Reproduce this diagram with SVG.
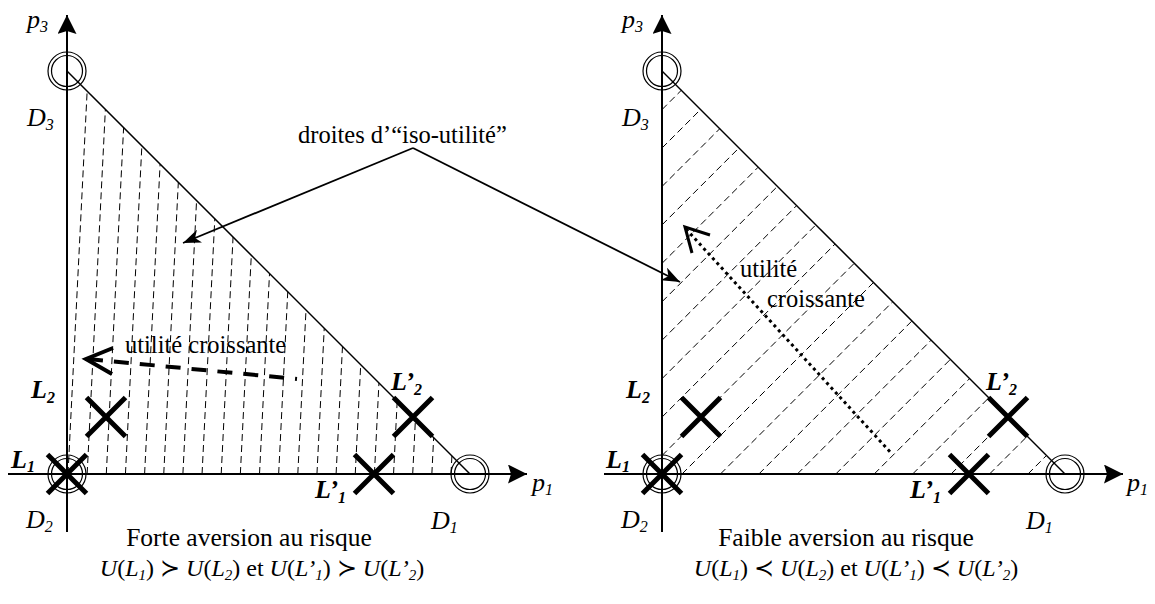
<svg xmlns="http://www.w3.org/2000/svg" xmlns:xlink="http://www.w3.org/1999/xlink" width="1155" height="604" viewBox="0 0 1155 604">
<style>
.axis{stroke:#000;stroke-width:2;fill:none}
.hyp{stroke:#000;stroke-width:1.5;fill:none}
.hatch{stroke:#000;stroke-width:1;stroke-dasharray:7 4;fill:none}
.ring{fill:none;stroke:#000;stroke-width:1.2}
.cross{stroke:#000;stroke-width:5;fill:none}
text{font-family:'Liberation Serif','DejaVu Serif',serif;fill:#000}
.lbl{font-style:italic;font-size:26px}
.bl{font-weight:bold}
.sub{font-size:16px}
.note{font-size:24.5px}
.title{font-size:25.5px}
.f{font-size:24px}
.i{font-style:italic}
.fs{font-size:15px;font-style:italic}
.conn{stroke:#000;stroke-width:1.8;fill:none}
.dash{stroke:#000;stroke-width:4;fill:none;stroke-dasharray:15 11}
.dot{stroke:#000;stroke-width:3;fill:none;stroke-dasharray:3 3.5}
.open{stroke:#000;stroke-width:4;fill:none}
.open2{stroke:#000;stroke-width:3;fill:none}
</style>
<defs>
<marker id="axhead" viewBox="0 0 19 19" refX="19" refY="9.5" markerWidth="19" markerHeight="19" markerUnits="userSpaceOnUse" orient="auto">
<path d="M0,0 L19,9.5 L0,19 L3,9.5 z" fill="#000"/>
</marker>
<marker id="stealth" viewBox="0 0 18 14" refX="18" refY="7" markerWidth="18" markerHeight="14" markerUnits="userSpaceOnUse" orient="auto">
<path d="M0,0 L18,7 L0,14 L5,7 z" fill="#000"/>
</marker>
<g id="ring"><circle class="ring" r="19"/><circle class="ring" r="15.5"/></g>
<path id="x" class="cross" d="M-19.5,-19.5 L19.5,19.5 M-19.5,19.5 L19.5,-19.5"/>
</defs>
<rect width="1155" height="604" fill="#fff"/>

<g font-family="Liberation Serif, DejaVu Serif, serif">
<!-- LEFT PANEL -->
<g id="left-hatch">
<path class="hatch" d="M68,474 L87.14,91.14 M87.15,474 L105.38,109.38 M106.3,474 L123.62,127.62 M125.45,474 L141.86,145.86 M144.6,474 L160.1,164.1 M163.75,474 L178.33,182.33 M182.9,474 L196.57,200.57 M202.05,474 L214.81,218.81 M221.2,474 L233.05,237.05 M240.35,474 L251.29,255.29 M259.5,474 L269.52,273.52 M278.65,474 L287.76,291.76 M297.8,474 L306,310 M316.95,474 L324.24,328.24 M336.1,474 L342.48,346.48 M355.25,474 L360.71,364.71 M374.4,474 L378.95,382.95 M393.55,474 L397.19,401.19 M412.7,474 L415.43,419.43 M431.85,474 L433.67,437.67 M451,474 L451.9,455.9"/>
</g>
<g id="left-axes">
<path class="axis" d="M67,532 L67,15" marker-end="url(#axhead)"/>
<path class="axis" d="M8,474 L527,474" marker-end="url(#axhead)"/>
<path class="hyp" d="M67,71 L470,474"/>
</g>
<g id="left-D3"><use xlink:href="#ring" x="67" y="71"/><text class="lbl" x="27" y="126">D<tspan class="sub" dy="4">3</tspan></text></g>
<g id="left-D2"><use xlink:href="#ring" x="67" y="474"/><text class="lbl" x="26" y="528">D<tspan class="sub" dy="4">2</tspan></text></g>
<g id="left-D1"><use xlink:href="#ring" x="470" y="474"/><text class="lbl" x="431" y="529">D<tspan class="sub" dy="4">1</tspan></text></g>
<g id="left-L1"><use xlink:href="#x" x="67" y="474"/><text class="lbl bl" x="11" y="468">L<tspan class="sub" dy="4">1</tspan></text></g>
<g id="left-L2"><use xlink:href="#x" x="106" y="417"/><text class="lbl bl" x="31" y="398">L<tspan class="sub" dy="5">2</tspan></text></g>
<g id="left-Lp1"><use xlink:href="#x" x="374" y="474"/><text class="lbl bl" x="315" y="498">L’<tspan class="sub" dy="5">1</tspan></text></g>
<g id="left-Lp2"><use xlink:href="#x" x="413" y="417"/><text class="lbl bl" x="391" y="390">L’<tspan class="sub" dy="5">2</tspan></text></g>
<text class="lbl" x="27" y="28">p<tspan class="sub" dy="4">3</tspan></text>
<text class="lbl" x="532" y="491">p<tspan class="sub" dy="4">1</tspan></text>
<text class="note" x="125" y="353">utilité croissante</text>
<text class="note title" x="249" y="546" text-anchor="middle">Forte aversion au risque</text>
<text class="f" x="262" y="576" text-anchor="middle"><tspan class="i">U</tspan>(<tspan class="i">L</tspan><tspan class="fs" dy="4">1</tspan><tspan dy="-4">)</tspan> ≻ <tspan class="i">U</tspan>(<tspan class="i">L</tspan><tspan class="fs" dy="4">2</tspan><tspan dy="-4">)</tspan> et <tspan class="i">U</tspan>(<tspan class="i">L’</tspan><tspan class="fs" dy="4">1</tspan><tspan dy="-4">)</tspan> ≻ <tspan class="i">U</tspan>(<tspan class="i">L’</tspan><tspan class="fs" dy="4">2</tspan><tspan dy="-4">)</tspan></text>

<!-- RIGHT PANEL -->
<g id="right-hatch">
<path class="hatch" d="M662,109.6 L681.3,90.3 M662,148.04 L700.52,109.52 M662,186.48 L719.74,128.74 M662,224.92 L738.96,147.96 M662,263.36 L758.18,167.18 M662,301.8 L777.4,186.4 M662,340.24 L796.62,205.62 M662,378.68 L815.84,224.84 M662,417.12 L835.06,244.06 M662,455.56 L854.28,263.28 M682,474 L873.5,282.5 M720.44,474 L892.72,301.72 M758.88,474 L911.94,320.94 M797.32,474 L931.16,340.16 M835.76,474 L950.38,359.38 M874.2,474 L969.6,378.6 M912.64,474 L988.82,397.82 M951.08,474 L1008.04,417.04 M989.52,474 L1027.26,436.26 M1027.96,474 L1046.48,455.48"/>
</g>
<g id="right-axes">
<path class="axis" d="M662,532 L662,15" marker-end="url(#axhead)"/>
<path class="axis" d="M604,474 L1123,474" marker-end="url(#axhead)"/>
<path class="hyp" d="M662,71 L1065,474"/>
</g>
<g id="right-D3"><use xlink:href="#ring" x="662" y="71"/><text class="lbl" x="622" y="126">D<tspan class="sub" dy="4">3</tspan></text></g>
<g id="right-D2"><use xlink:href="#ring" x="662" y="474"/><text class="lbl" x="621" y="528">D<tspan class="sub" dy="4">2</tspan></text></g>
<g id="right-D1"><use xlink:href="#ring" x="1065" y="474"/><text class="lbl" x="1026" y="529">D<tspan class="sub" dy="4">1</tspan></text></g>
<g id="right-L1"><use xlink:href="#x" x="662" y="474"/><text class="lbl bl" x="606" y="468">L<tspan class="sub" dy="4">1</tspan></text></g>
<g id="right-L2"><use xlink:href="#x" x="701" y="417"/><text class="lbl bl" x="626" y="398">L<tspan class="sub" dy="5">2</tspan></text></g>
<g id="right-Lp1"><use xlink:href="#x" x="969" y="474"/><text class="lbl bl" x="910" y="498">L’<tspan class="sub" dy="5">1</tspan></text></g>
<g id="right-Lp2"><use xlink:href="#x" x="1008" y="417"/><text class="lbl bl" x="986" y="390">L’<tspan class="sub" dy="5">2</tspan></text></g>
<text class="lbl" x="622" y="28">p<tspan class="sub" dy="4">3</tspan></text>
<text class="lbl" x="1127" y="491">p<tspan class="sub" dy="4">1</tspan></text>
<text class="note" x="740" y="277">utilité</text>
<text class="note" x="767" y="307">croissante</text>
<text class="note title" x="846" y="546" text-anchor="middle">Faible aversion au risque</text>
<text class="f" x="856" y="576" text-anchor="middle"><tspan class="i">U</tspan>(<tspan class="i">L</tspan><tspan class="fs" dy="4">1</tspan><tspan dy="-4">)</tspan> ≺ <tspan class="i">U</tspan>(<tspan class="i">L</tspan><tspan class="fs" dy="4">2</tspan><tspan dy="-4">)</tspan> et <tspan class="i">U</tspan>(<tspan class="i">L’</tspan><tspan class="fs" dy="4">1</tspan><tspan dy="-4">)</tspan> ≺ <tspan class="i">U</tspan>(<tspan class="i">L’</tspan><tspan class="fs" dy="4">2</tspan><tspan dy="-4">)</tspan></text>

<text class="note" x="298" y="143">droites d’“iso-utilité”</text>
</g>

<g id="connectors">
<path class="conn" d="M413,148 L183,243" marker-end="url(#stealth)"/>
<path class="conn" d="M413,148 L680,282" marker-end="url(#stealth)"/>
<path class="dash" d="M88,359 L297,379"/>
<path class="open" d="M113,348 L86,359 L112,374"/>
<path class="dot" d="M686,229 L892,454"/>
<path class="open2" d="M710,235 L685,227 L692,253"/>
</g>
</svg>
